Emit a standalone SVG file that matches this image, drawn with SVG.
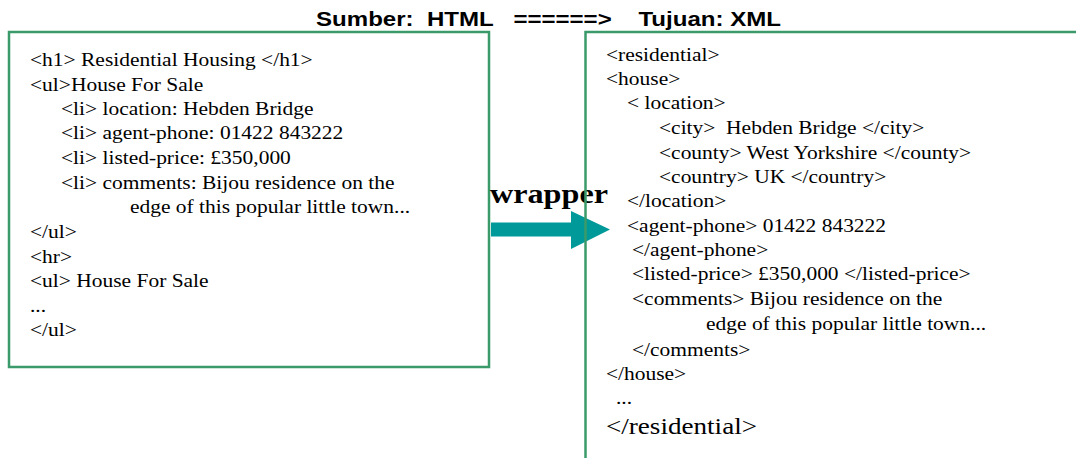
<svg xmlns="http://www.w3.org/2000/svg" width="1076" height="458" viewBox="0 0 1076 458">
<style>
.t{font-family:"Liberation Serif","Times New Roman",serif;font-size:19px;fill:#000;white-space:pre}
.box{fill:#fff;stroke:#3a9a6a;stroke-width:2.5}
.title{font-family:"Liberation Sans",Arial,sans-serif;font-size:21px;font-weight:bold;white-space:pre}
</style>
<rect width="1076" height="458" fill="#fff"/>
<text class="title" x="316" y="26" textLength="465" lengthAdjust="spacingAndGlyphs" xml:space="preserve">Sumber:  HTML   ======>    Tujuan: XML</text>
<g id="html-box">
<rect class="box" x="9" y="32" width="480" height="335"/>
<g transform="scale(1.13,1)">
<text class="t" x="26.55" y="66">&lt;h1&gt; Residential Housing &lt;/h1&gt;</text>
<text class="t" x="26.55" y="91">&lt;ul&gt;House For Sale</text>
<text class="t" x="53.98" y="115">&lt;li&gt; location: Hebden Bridge</text>
<text class="t" x="53.98" y="139">&lt;li&gt; agent-phone: 01422 843222</text>
<text class="t" x="53.98" y="164">&lt;li&gt; listed-price: £350,000</text>
<text class="t" x="53.98" y="189">&lt;li&gt; comments: Bijou residence on the</text>
<text class="t" x="115.04" y="213">edge of this popular little town...</text>
<text class="t" x="26.55" y="238">&lt;/ul&gt;</text>
<text class="t" x="26.55" y="263">&lt;hr&gt;</text>
<text class="t" x="26.55" y="287">&lt;ul&gt; House For Sale</text>
<text class="t" x="26.55" y="312">...</text>
<text class="t" x="26.55" y="336">&lt;/ul&gt;</text>
</g>
</g>
<g id="connectors">
<polygon points="491,222.5 571,222.5 571,211 610,229.5 571,249 571,236.5 491,236.5" fill="#009999"/>
<text transform="translate(490,203) scale(1.15,1)" x="0" y="0" font-family="Liberation Serif,'Times New Roman',serif" font-size="28" font-weight="bold">wrapper</text>
</g>
<g id="xml-box">
<path d="M585.5 460 V32 H1080" fill="none" stroke="#3a9a6a" stroke-width="2.5"/>
<g transform="scale(1.13,1)">
<text class="t" x="536.28" y="61">&lt;residential&gt;</text>
<text class="t" x="536.28" y="85">&lt;house&gt;</text>
<text class="t" x="554.87" y="109">&lt; location&gt;</text>
<text class="t" x="583.19" y="134">&lt;city&gt;  Hebden Bridge &lt;/city&gt;</text>
<text class="t" x="583.19" y="159">&lt;county&gt; West Yorkshire &lt;/county&gt;</text>
<text class="t" x="583.19" y="183">&lt;country&gt; UK &lt;/country&gt;</text>
<text class="t" x="554.87" y="207">&lt;/location&gt;</text>
<text class="t" x="554.87" y="232">&lt;agent-phone&gt; 01422 843222</text>
<text class="t" x="559.29" y="256">&lt;/agent-phone&gt;</text>
<text class="t" x="559.29" y="280">&lt;listed-price&gt; £350,000 &lt;/listed-price&gt;</text>
<text class="t" x="559.29" y="305">&lt;comments&gt; Bijou residence on the</text>
<text class="t" x="624.78" y="330">edge of this popular little town...</text>
<text class="t" x="559.29" y="356">&lt;/comments&gt;</text>
<text class="t" x="536.28" y="380">&lt;/house&gt;</text>
<text class="t" x="545.13" y="404">...</text>
<text class="t" x="536.28" y="434" style="font-size:24px">&lt;/residential&gt;</text>
</g>
</g>
</svg>
